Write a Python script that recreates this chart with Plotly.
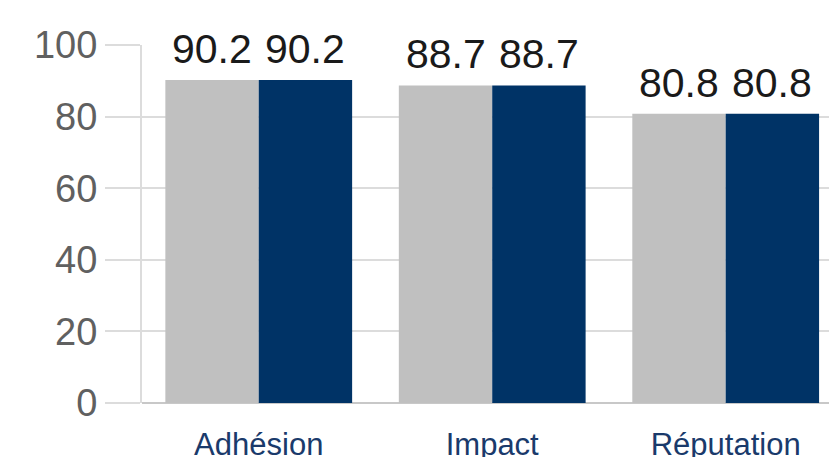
import plotly.graph_objects as go

categories = ["Adhésion", "Impact", "Réputation"]
series_a = [90.2, 88.7, 80.8]
series_b = [90.2, 88.7, 80.8]
y_ticks = [0, 20, 40, 60, 80, 100]

FONT = "Liberation Sans, Arial, Helvetica, sans-serif"

W, H = 837, 457
ML, MR, MT, MB = 134, 0, 37, 62
XR = [-0.5, 2.511]
BARGAP = 0.2

fig = go.Figure()
fig.add_trace(go.Bar(x=categories, y=series_a, marker_color="#c0c0c0",
                     marker_line_width=0, name="A"))
fig.add_trace(go.Bar(x=categories, y=series_b, marker_color="#003366",
                     marker_line_width=0, name="B"))

# value labels above each bar, positioned via data coordinates
px_per_cat = (W - ML - MR) / (XR[1] - XR[0])
half = px_per_cat * (1 - BARGAP) / 4
for series, sign in ((series_a, -1), (series_b, 1)):
    for cat, v in zip(categories, series):
        fig.add_annotation(x=cat, y=v, xref="x", yref="y", text=f"{v:.1f}",
                           showarrow=False, xanchor="center", yanchor="bottom",
                           xshift=sign * half, yshift=6,
                           font=dict(size=41, color="#1a1a1a", family=FONT))

fig.update_layout(
    width=W, height=H,
    margin=dict(l=ML, r=MR, t=MT, b=MB),
    paper_bgcolor="white", plot_bgcolor="white",
    barmode="group", bargap=BARGAP, bargroupgap=0,
    showlegend=False,
    font=dict(family=FONT),
)
fig.update_xaxes(
    range=XR, automargin=False,
    showgrid=False, showline=False, zeroline=False,
    ticks="", ticklabelstandoff=20,
    tickfont=dict(size=31, color="#1a3a6b", family=FONT),
)
fig.update_yaxes(
    range=[0, 100], tickvals=y_ticks, automargin=False,
    showgrid=True, gridcolor="#dcdcdc", gridwidth=2,
    showline=True, linecolor="#dcdcdc", linewidth=2,
    zeroline=True, zerolinecolor="#c8c8c8", zerolinewidth=2,
    ticks="outside", ticklen=35, tickwidth=2, tickcolor="#dcdcdc",
    ticklabelstandoff=0,
    tickfont=dict(size=38, color="#606060", family=FONT),
)

fig.write_html("out.html")
